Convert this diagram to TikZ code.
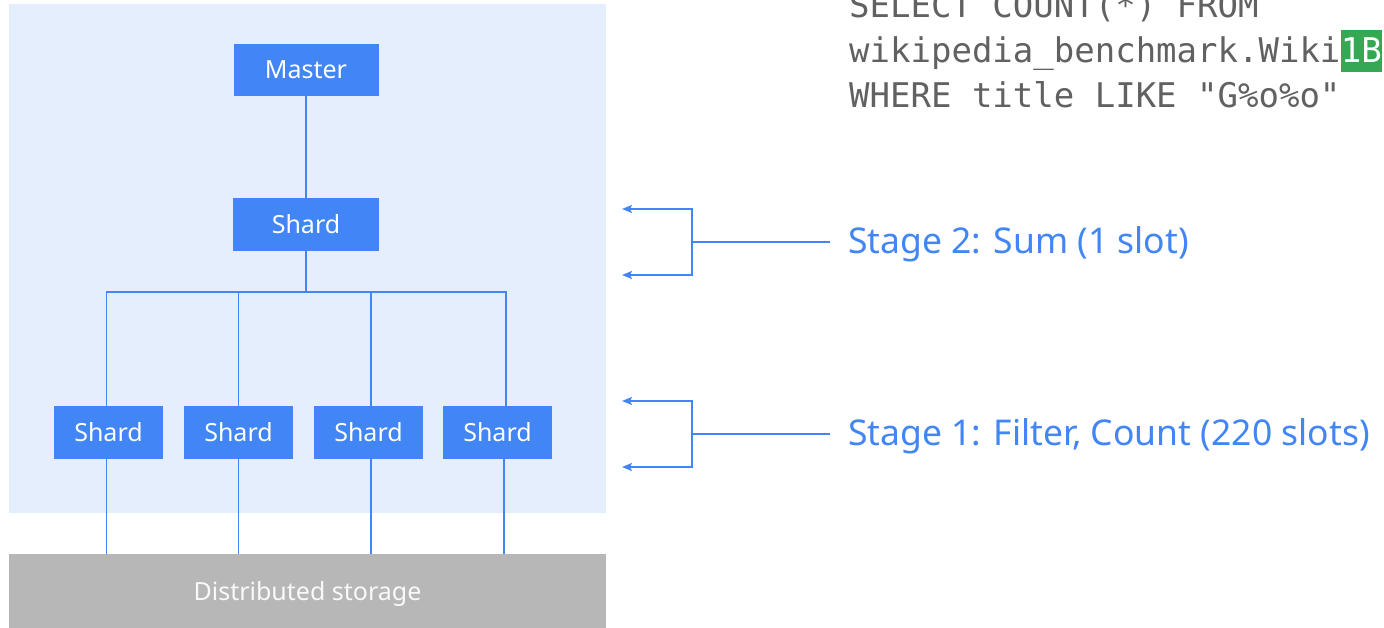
\documentclass[tikz,border=0pt]{standalone}
\usepackage{fontspec}
\setmainfont{Noto Sans}
\setmonofont{DejaVu Sans Mono}
\usepackage{tikz}
\usetikzlibrary{arrows.meta}

\definecolor{gblue}{HTML}{4285F4}
\definecolor{paleblue}{HTML}{E4EEFC}
\definecolor{storegray}{HTML}{B7B7B7}
\definecolor{codegray}{HTML}{616161}
\definecolor{ggreen}{HTML}{34A853}

\tikzset{
  srv/.style={fill=gblue, text=white, inner sep=0pt, font=\fontsize{25}{25}\selectfont},
  wire/.style={draw=gblue, line width=1.8pt},
  fork/.style={wire, -{Stealth[length=10pt, width=8pt, inset=2pt]}},
  stagetext/.style={anchor=west, text=gblue, inner xsep=18pt, font=\fontsize{35.5}{36}\selectfont},
  sql/.style={anchor=base west, text=codegray, inner sep=0pt, font=\ttfamily\fontsize{34}{34}\selectfont}
}

\begin{document}
\begin{tikzpicture}[x=1pt, y=-1pt]
      \useasboundingbox (0,0) rectangle (1384,628);

      % cluster area and storage
      \fill[paleblue] (9,4) rectangle (606,513);
      \node[fill=storegray, minimum width=597pt, minimum height=74pt, inner sep=0pt] (store) at (307.5,591) {};
      \node[text=white!95!gray, font=\fontsize{25}{25}\selectfont] (storelbl) at ([yshift=-3pt]store.center) {Distributed storage};

      % tree of servers
      \node[srv, minimum width=145pt, minimum height=52pt] (master) at (306,70) {Master};
      \node[srv, minimum width=146pt, minimum height=53pt] (top) at (306,224.5) {Shard};
      \coordinate (bus) at (306,292);
      \foreach \x/\up/\dn [count=\i] in {108.5/106.5/106.5, 238.5/238.5/238.5, 368.5/371/371, 497.5/506/504}
      {
        \node[srv, minimum width=109pt, minimum height=53pt] (s\i) at (\x,432.5) {Shard};
        \draw[wire] (\up,406) |- (bus);
        \draw[wire] (\dn,459) -- (\dn,554);
      }

      \draw[wire] (master) -- (top);
      \draw[wire] (top) -- (bus);

      % stage labels
      \node[stagetext] (st2) at (830,244) {Stage 2: Sum (1 slot)};
      \node[stagetext] (st1) at (830,436) {Stage 1: Filter, Count (220 slots)};
      \coordinate (j2) at (692,242);
      \coordinate (u2) at (622,209);
      \coordinate (d2) at (622,275);
      \coordinate (j1) at (692,434);
      \coordinate (u1) at (622,401);
      \coordinate (d1) at (622,467);
      \draw[wire] (st2.west |- j2) -- (j2);
      \draw[wire] (st1.west |- j1) -- (j1);
      \draw[fork] (j2) |- (u2);
      \draw[fork] (j2) |- (d2);
      \draw[fork] (j1) |- (u1);
      \draw[fork] (j1) |- (d1);

      % query text
      \node[sql] (q1) at (849,18) {SELECT COUNT(*) FROM};
      \node[sql] (q2) at (849,63) {wikipedia\_benchmark.Wiki};
      \node[sql, fill=ggreen, text=white, text height=33pt, text depth=9pt] (tag) at (q2.base east) {1B};
      \node[sql] (q3) at (849,108) {WHERE title LIKE "G\%o\%o"};
\end{tikzpicture}
\end{document}
